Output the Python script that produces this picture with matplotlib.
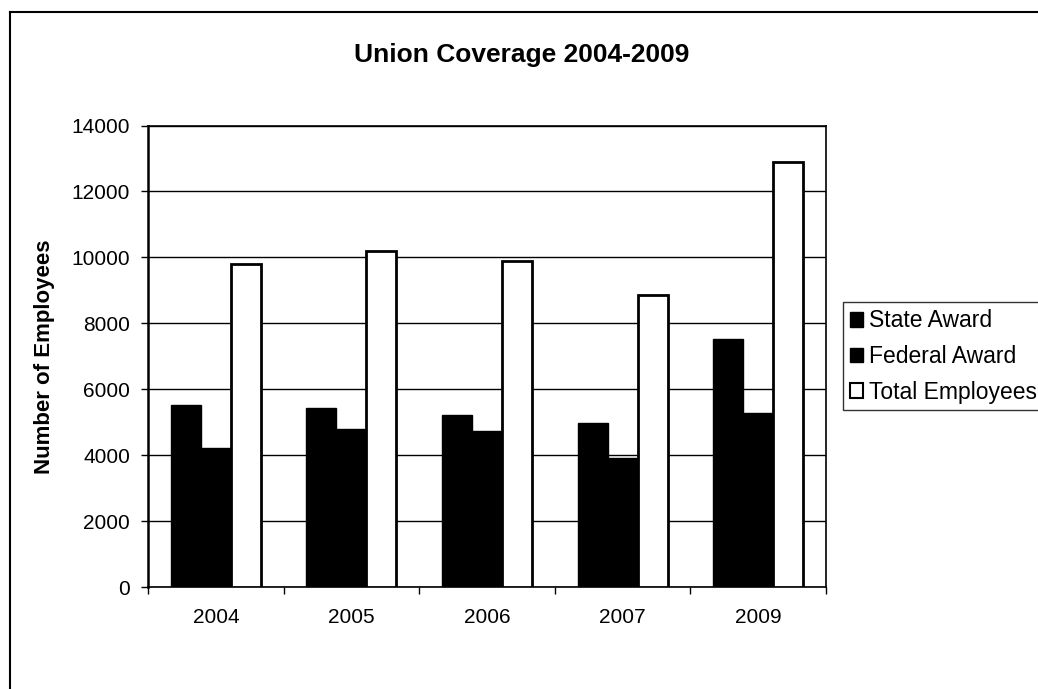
"""Union coverage clustered bar chart, 2004-2009."""

import matplotlib
matplotlib.use("Agg")

import matplotlib.pyplot as plt
from matplotlib.lines import Line2D
from matplotlib.patches import Patch
import numpy as np

YEARS = ["2004", "2005", "2006", "2007", "2009"]
STATE_AWARD = [5530, 5430, 5220, 4990, 7530]
FEDERAL_AWARD = [4230, 4800, 4740, 3900, 5270]
TOTAL_EMPLOYEES = [9800, 10200, 9890, 8850, 12880]
SERIES_LABELS = ["State Award", "Federal Award", "Total Employees"]

plt.rcParams["font.family"] = ["Liberation Sans", "DejaVu Sans"]

fig = plt.figure(figsize=(10.38, 6.89), dpi=100)
ax = fig.add_axes([0.1426, 0.148, 0.6532, 0.6698])

x = np.arange(len(YEARS))
w = 0.221
ax.bar(x - w, STATE_AWARD, width=w, color="black", edgecolor="black", linewidth=1, zorder=3)
ax.bar(x, FEDERAL_AWARD, width=w, color="black", edgecolor="black", linewidth=1, zorder=3)
ax.bar(x + w, TOTAL_EMPLOYEES, width=w, color="white", edgecolor="black", linewidth=2, zorder=3)

ax.set_xlim(-0.5, len(YEARS) - 0.5)
ax.set_ylim(0, 14000)
ax.set_yticks(range(0, 14001, 2000))
ax.yaxis.grid(True, color="black", linewidth=1)
ax.set_axisbelow(True)

ax.set_xticks(x)
ax.set_xticklabels(YEARS, fontsize=15)
ax.set_xticks(np.arange(-0.5, len(YEARS), 1.0), minor=True)
ax.tick_params(axis="x", which="major", length=0, pad=15)
ax.tick_params(axis="x", which="minor", length=5, width=1, direction="out")
ax.tick_params(axis="y", length=5, width=1, direction="out", labelsize=15, pad=8)

for s in ax.spines.values():
    s.set_linewidth(1.2)
ax.spines["left"].set_linewidth(1.8)

ax.set_ylabel("Number of Employees", fontsize=16, fontweight="bold", labelpad=12)
fig.text(0.503, 0.920, "Union Coverage 2004-2009", ha="center", va="center",
         fontsize=19, fontweight="bold")

handles = [
    Patch(facecolor="black", edgecolor="black"),
    Patch(facecolor="black", edgecolor="black"),
    Patch(facecolor="white", edgecolor="black", linewidth=1.5),
]
leg = fig.legend(handles, SERIES_LABELS, loc="upper left",
                 bbox_to_anchor=(0.812, 0.561), fontsize=16.5,
                 frameon=True, fancybox=False, edgecolor="black",
                 handlelength=0.6, handleheight=0.6, handletextpad=0.25,
                 labelspacing=0.55, borderpad=0.3, borderaxespad=0)
leg.get_frame().set_linewidth(1)

# outer chart border (only top and left visible in the crop)
fig.add_artist(Line2D([0.0096, 1.0], [0.983, 0.983], color="black", linewidth=1.5))
fig.add_artist(Line2D([0.0096, 0.0096], [0.0, 0.983], color="black", linewidth=1.5))

fig.savefig("out.png", dpi=100, facecolor="white")
